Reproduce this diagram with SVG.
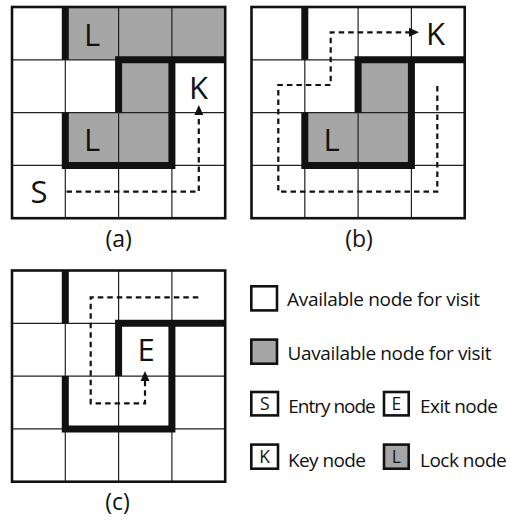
<svg xmlns="http://www.w3.org/2000/svg" xmlns:xlink="http://www.w3.org/1999/xlink" width="515" height="523" viewBox="0 0 515 523">
  <style>
    text { font-family: "Open Sans", "Liberation Sans", sans-serif; fill: #111; }
    .cellL { font-size: 31px; text-anchor: middle; }
    .cap { font-size: 23px; text-anchor: middle; }
    .leg { font-size: 19px; }
    .key { font-size: 17.5px; text-anchor: middle; }
    .gray { fill: #a6a6a6; }
    .wall { fill: none; stroke: #111; stroke-width: 7; stroke-linejoin: miter; stroke-linecap: butt; }
    .path { fill: none; stroke: #111; stroke-width: 2.2; stroke-dasharray: 5.5 4; }
    .box { stroke: #111; stroke-width: 2.6; }
  </style>
  <defs>
    <!-- 4x4 grid: thin inner lines and a heavier border -->
    <g id="grid">
      <path d="M53.3,0V211.2M106.6,0V211.2M159.9,0V211.2M0,52.8H213.2M0,105.6H213.2M0,158.4H213.2" stroke="#222" stroke-width="1.2" fill="none"/>
      <rect x="0" y="0" width="213.2" height="211.2" fill="none" stroke="#111" stroke-width="2.6"/>
    </g>
    <marker id="arrow" viewBox="0 0 10 10" refX="1" refY="5" markerWidth="10" markerHeight="10" markerUnits="userSpaceOnUse" orient="auto">
      <path d="M0,0.5L10,5L0,9.5z" fill="#111"/>
    </marker>
  </defs>

  <!-- panel (a) -->
  <g id="panel-a" transform="translate(12,7)">
    <rect x="0" y="0" width="213.2" height="211.2" fill="#fff"/>
    <rect class="gray" x="53.3" y="0" width="159.9" height="52.8"/>
    <rect class="gray" x="106.6" y="52.8" width="53.3" height="52.8"/>
    <rect class="gray" x="53.3" y="105.6" width="106.6" height="52.8"/>
    <use xlink:href="#grid"/>
    <path class="wall" d="M53.3,0V52.8M213.2,52.8H106.6V105.6M53.3,105.6V158.4H159.9V52.8"/>
    <text class="cellL" x="80" y="38.5">L</text>
    <text class="cellL" x="80" y="144">L</text>
    <text class="cellL" x="186.5" y="91.5">K</text>
    <text class="cellL" x="27" y="196">S</text>
  </g>
  <g id="label-a"><text class="cap" x="118.7" y="247">(a)</text></g>

  <!-- panel (b) -->
  <g id="panel-b" transform="translate(251.5,7)">
    <rect x="0" y="0" width="213.2" height="211.2" fill="#fff"/>
    <rect class="gray" x="106.6" y="52.8" width="53.3" height="52.8"/>
    <rect class="gray" x="53.3" y="105.6" width="106.6" height="52.8"/>
    <use xlink:href="#grid"/>
    <path class="wall" d="M53.3,0V52.8M213.2,52.8H106.6V105.6M53.3,105.6V158.4H159.9V52.8"/>
    <text class="cellL" x="80" y="144">L</text>
    <text class="cellL" x="184" y="38">K</text>
  </g>
  <g id="label-b"><text class="cap" x="359" y="247">(b)</text></g>

  <!-- panel (c) -->
  <g id="panel-c" transform="translate(12,270.5)">
    <rect x="0" y="0" width="213.2" height="211.2" fill="#fff"/>
    <use xlink:href="#grid"/>
    <path class="wall" d="M53.3,0V52.8M213.2,52.8H106.6V105.6M53.3,105.6V158.4H159.9V52.8"/>
    <text class="cellL" x="134" y="90">E</text>
  </g>
  <g id="label-c"><text class="cap" x="117.5" y="510">(c)</text></g>

  <!-- walk routes -->
  <g id="connectors">
    <path class="path" d="M66.5,191.7H198.8V114" marker-end="url(#arrow)"/>
    <path class="path" d="M437.3,86V191.7H278.3V85H330.7V32.3H410" marker-end="url(#arrow)"/>
    <path class="path" d="M198.3,297.3H90.7V403.3H145V380" marker-end="url(#arrow)"/>
  </g>

  <!-- legend -->
  <g id="legend-available">
    <rect class="box" x="251.3" y="286.3" width="25.7" height="24.1" fill="#fff"/>
    <text class="leg" x="287" y="306" textLength="193">Available node for visit</text>
  </g>
  <g id="legend-unavailable">
    <rect class="box gray" x="251.3" y="339.6" width="25.7" height="24.1"/>
    <text class="leg" x="287.5" y="360" textLength="204">Uavailable node for visit</text>
  </g>
  <g id="legend-entry">
    <rect class="box" x="251.3" y="392" width="26.7" height="23.4" fill="#fff"/>
    <text class="key" x="264.7" y="410">S</text>
    <text class="leg" x="288.3" y="413" textLength="87.4">Entry node</text>
  </g>
  <g id="legend-exit">
    <rect class="box" x="384" y="392" width="24.7" height="23.4" fill="#fff"/>
    <text class="key" x="396.4" y="410">E</text>
    <text class="leg" x="420" y="413" textLength="78">Exit node</text>
  </g>
  <g id="legend-key">
    <rect class="box" x="251.3" y="444.6" width="26.7" height="24.1" fill="#fff"/>
    <text class="key" x="264.7" y="463">K</text>
    <text class="leg" x="288" y="466.7" textLength="78">Key node</text>
  </g>
  <g id="legend-lock">
    <rect class="box gray" x="384" y="444.6" width="24.7" height="24.1"/>
    <text class="key" x="396.4" y="463">L</text>
    <text class="leg" x="420" y="466.7" textLength="86.7">Lock node</text>
  </g>
</svg>
